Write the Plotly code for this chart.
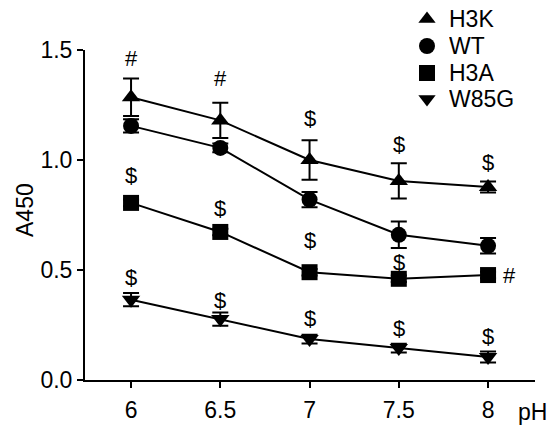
import plotly.graph_objects as go

ph = [6, 6.5, 7, 7.5, 8]
tick_labels = ["6", "6.5", "7", "7.5", "8"]

h3k = [1.285, 1.18, 1.00, 0.905, 0.877]
h3k_err = [0.085, 0.08, 0.09, 0.08, 0.025]
wt = [1.155, 1.055, 0.82, 0.66, 0.61]
wt_err = [0.03, 0.02, 0.035, 0.06, 0.035]
h3a = [0.805, 0.673, 0.49, 0.46, 0.477]
h3a_err = [0.015, 0.015, 0.015, 0.015, 0.015]
w85g = [0.365, 0.277, 0.186, 0.145, 0.105]
w85g_err = [0.03, 0.03, 0.02, 0.02, 0.025]

# significance marks (label, y position in data units)
h3k_sig = ["#", "#", "$", "$", "$"]
h3k_sig_y = [1.46, 1.37, 1.19, 1.07, 0.99]
h3a_sig = ["$", "$", "$", "$", ""]
h3a_sig_y = [0.93, 0.78, 0.635, 0.535, 0]
w85g_sig = ["$", "$", "$", "$", "$"]
w85g_sig_y = [0.465, 0.36, 0.28, 0.235, 0.2]

names = ["H3K", "WT", "H3A", "W85G"]
symbols = ["triangle-up", "circle", "square", "triangle-down"]
values = [h3k, wt, h3a, w85g]
errors = [h3k_err, wt_err, h3a_err, w85g_err]

W, H = 551, 427
PL, PR, PT, PB = 85, 535, 50, 380  # plot area in pixels
font = "Liberation Sans, Arial, sans-serif"
FS = 23

fig = go.Figure()
for name, vals, err, sym in zip(names, values, errors, symbols):
    fig.add_trace(go.Scatter(
        x=ph, y=vals, mode="lines+markers", name=name, showlegend=False,
        line=dict(color="black", width=2),
        marker=dict(symbol=sym, size=16, color="black"),
        error_y=dict(type="data", array=err, color="black", thickness=2, width=8),
    ))

# manual legend in a full-figure pixel layer (x: px from left, y: px from bottom)
leg_x = 427
leg_rows = [H - 19, H - 46, H - 73, H - 99]
fig.add_trace(go.Scatter(
    x=[leg_x] * 4, y=leg_rows, mode="markers", xaxis="x2", yaxis="y2",
    showlegend=False, hoverinfo="skip",
    marker=dict(symbol=symbols, size=[15, 16, 16, 15], color="black", opacity=1,
                line=dict(width=0)),
))

ann = []
for labels, ys in [(h3k_sig, h3k_sig_y), (h3a_sig, h3a_sig_y), (w85g_sig, w85g_sig_y)]:
    for x, lab, y in zip(ph, labels, ys):
        if lab:
            ann.append(dict(x=x, y=y, text=lab, showarrow=False, xref="x", yref="y",
                            font=dict(size=22, color="black", family=font)))
ann.append(dict(x=ph[-1], y=h3a[-1], text="#", showarrow=False, xref="x", yref="y",
                xshift=21, font=dict(size=22, color="black", family=font)))
for name, yy in zip(names, leg_rows):
    ann.append(dict(x=448, y=yy, xref="x2", yref="y2", text=name, showarrow=False,
                    xanchor="left", yanchor="middle", height=22, borderpad=0,
                    font=dict(size=FS, color="black", family=font)))
ann.append(dict(x=516, y=H - 412, xref="x2", yref="y2", text="pH", showarrow=False,
                xanchor="left", yanchor="middle",
                font=dict(size=FS, color="black", family=font)))
# y-axis title
ann.append(dict(x=25, y=H - 210, xref="x2", yref="y2", text="A450", showarrow=False,
                textangle=-90, xanchor="center", yanchor="middle",
                font=dict(size=FS, color="black", family=font)))

fig.update_layout(
    width=W, height=H,
    margin=dict(l=0, r=0, t=0, b=0, autoexpand=False),
    plot_bgcolor="rgba(0,0,0,0)", paper_bgcolor="white",
    font=dict(family=font, size=FS, color="black"),
    annotations=ann,
    showlegend=False,
    xaxis=dict(domain=[PL / W, PR / W], anchor="y",
               range=[5.742, 8.263], tickvals=ph, ticktext=tick_labels,
               showgrid=False, zeroline=False, showline=True, linecolor="black",
               linewidth=2, ticks="outside", ticklen=6, tickwidth=2, tickcolor="black",
               tickfont=dict(size=FS), ticklabelstandoff=2, automargin=False),
    yaxis=dict(domain=[(H - PB) / H, (H - PT) / H], anchor="x",
               range=[0, 1.5], tickvals=[0, 0.5, 1.0, 1.5],
               ticktext=["0.0", "0.5", "1.0", "1.5"],
               showgrid=False, zeroline=False, showline=True, linecolor="black",
               linewidth=2, ticks="outside", ticklen=6, tickwidth=2, tickcolor="black",
               tickfont=dict(size=FS), automargin=False),
    xaxis2=dict(domain=[0, 1], range=[0, W], anchor="y2", visible=False, fixedrange=True),
    yaxis2=dict(domain=[0, 1], range=[0, H], anchor="x2", visible=False, fixedrange=True),
)

fig.write_html("out.html")
